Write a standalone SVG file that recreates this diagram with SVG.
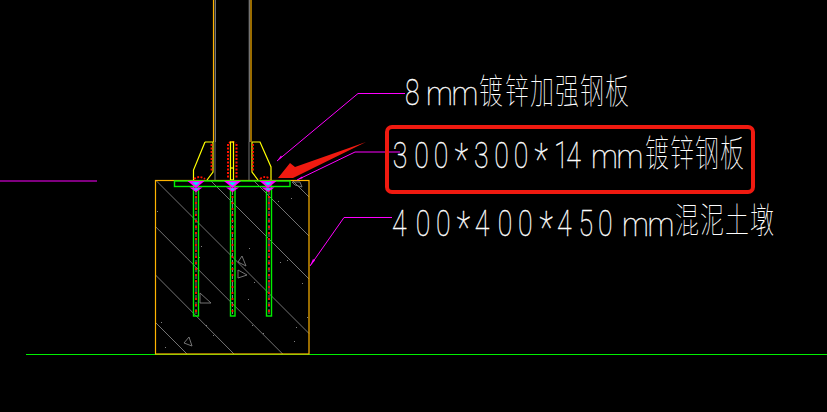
<svg xmlns="http://www.w3.org/2000/svg" width="827" height="412" viewBox="0 0 827 412">
<style>
.o{fill:none;stroke:#ffb400;stroke-width:1.2}
.y{fill:none;stroke:#ffff00;stroke-width:1.2}
.g{fill:none;stroke:#00f000;stroke-width:1.4}
.gr{fill:none;stroke:#808080;stroke-width:.9}
.m{fill:none;stroke:#ff00ff;stroke-width:1}
.r{fill:none;stroke:#ff1000;stroke-width:1.800;stroke-dasharray:2 1.500}
.rc{fill:none;stroke:#808080;stroke-width:1;stroke-dasharray:5 2}
.rr{fill:none;stroke:#ff1000;stroke-width:1.800;stroke-dasharray:2 4}
.t{fill:#fff;stroke:#fff;stroke-width:.35;font-weight:100;font-family:"Roboto","Liberation Sans",sans-serif}
.d{font-size:37px}
.ast{font-size:44px}
.mm{font-size:34px}
.c{font-size:24px;font-weight:100;font-family:"Noto Sans CJK SC",sans-serif;fill:#fff}
.s{fill:#808080}
</style>
<defs>
<g id="bolt">
<path d="M-8.500 0H8.500L0 7Z" fill="#ff00ff"/>
<path d="M-4 1.200H4L0 4.500Z" fill="#00e8f0"/>
<path d="M-6.500 6.500H6.500L0 11Z" fill="#ff00ff"/>
<path d="M-2.500 7.500H2.500L0 9.500Z" fill="#00e8f0"/>
</g>
</defs>
<rect width="827" height="412" fill="#000"/>
<g id="concrete-hatch">
<path class="gr" d="M156.500 181L309 333.500M155.500 226.700L282.700 354M155.500 275L234 354M155.500 322.500L187 354M211 181L309 279M254 181L309 236M293 181L309 197M215 142V180M249 142V180"/>
<path class="gr" d="M238 262L242 256L246 266ZM238 270L247 275L238 278ZM200 293L211 303L200 303ZM184 343L189 337L192 346ZM292 182H300L302 187L295 185Z"/>
<g class="s"><rect x="157" y="211" width="1" height="1"/><rect x="201" y="246" width="1" height="1"/><rect x="199" y="257" width="1" height="1"/><rect x="249" y="248" width="1" height="1"/><rect x="280" y="262" width="1" height="1"/><rect x="287" y="260" width="1" height="1"/><rect x="254" y="282" width="1" height="1"/><rect x="248" y="299" width="1" height="1"/><rect x="302" y="283" width="1" height="1"/><rect x="161" y="322" width="1" height="1"/><rect x="206" y="325" width="1" height="1"/><rect x="213" y="335" width="1" height="1"/><rect x="252" y="325" width="1" height="1"/><rect x="263" y="333" width="1" height="1"/><rect x="296" y="327" width="1" height="1"/><rect x="307" y="317" width="1" height="1"/><rect x="294" y="341" width="1" height="1"/><rect x="165" y="347" width="1" height="1"/><rect x="278" y="201" width="1" height="1"/><rect x="291" y="198" width="1" height="1"/></g>
</g>
<g id="ground"><path d="M26 354.500H827" stroke="#00f000" stroke-width="1.200"/><path d="M0 181H97" class="m"/></g>
<g id="foundation"><rect class="o" x="155.500" y="180.500" width="153.500" height="173.500"/></g>
<g id="column"><path class="o" d="M213.500 0V142M251 0V142"/><path class="gr" d="M215.300 0V142M249.300 0V142" style="stroke-width:1.200"/></g>
<g id="stiffener-left"><path class="y" d="M205 142H213V172L207 180M205 142L193.500 170V180"/><path class="r" d="M211.500 144V172M194 179Q199 175 205 179"/></g>
<g id="stiffener-right"><path class="y" d="M252 142H260L271 167V180M252 142V172L258 180"/><path class="r" d="M253 144V172M260 179Q265 175 270 179"/></g>
<g id="stiffener-center"><path class="r" d="M228 144V178M236.500 144V178M229 143Q232.500 141 236 143" style="stroke-width:2"/><path class="y" d="M230.500 168H233.500"/><rect x="230.500" y="142" width="3" height="38" class="y"/></g>
<g id="plate"><rect class="g" x="174.500" y="181" width="115.500" height="5.500"/></g>
<g id="rod-left"><rect class="g" x="193.500" y="186" width="5" height="130"/><path class="rc" d="M196 190V316"/><path class="rr" d="M196 190V314"/></g>
<g id="rod-center"><rect class="g" x="230.500" y="186" width="4.500" height="130"/><path class="rc" d="M232.500 190V316"/><path class="rr" d="M232.500 190V314"/></g>
<g id="rod-right"><rect class="g" x="266.500" y="186" width="5" height="130"/><path class="rc" d="M269 190V316"/><path class="rr" d="M269 190V314"/></g>
<g id="bolts"><use href="#bolt" x="196" y="181"/><use href="#bolt" x="232.500" y="181"/><use href="#bolt" x="268" y="181"/></g>
<g id="connectors">
<path class="m" d="M405 93.500H358L277 161"/>
<path class="m" d="M400 152H355L297 180"/>
<path class="m" d="M392 217.500H344L310 266"/>
<path d="M277 161L281 155.500L282 157Z M297 180L302 176.500L303 178Z M310 266L313 259L315 260.500Z" fill="#ff00ff"/>
</g>
<g id="callout">
<rect x="387" y="127" width="366" height="65" rx="5" fill="none" stroke="#f01a10" stroke-width="4"/>
<path d="M278 178L290 163L295 167L366 142L293 178Z" fill="#f01a10"/>
</g>
<g id="label-8mm">
<text class="t d" transform="translate(405,105) scale(.72,1)" x="0">8</text>
<text class="t mm" transform="translate(426,105) scale(.88,1)" x="0 29">mm</text>
<text class="c" transform="translate(0,104) scale(1,1.450)" x="479 505 530 555 580 605" y="0">镀锌加强钢板</text>
</g>
<g id="label-300">
<text class="t d" transform="translate(392,168) scale(.72,1)" x="1 31 58 87 114 142 169 198 225 242" y="0">300<tspan class="ast" y="7">*</tspan><tspan y="0">300</tspan><tspan class="ast" y="7">*</tspan><tspan y="0">14</tspan></text>
<text class="t mm" transform="translate(591,168) scale(.88,1)" x="0 29">mm</text>
<text class="c" transform="translate(0,167) scale(1,1.550)" x="645 670 695 720" y="0">镀锌钢板</text>
</g>
<g id="label-400">
<text class="t d" transform="translate(392,236) scale(.72,1)" x="0 33 61 90 115 147 175 205 229 259 286" y="0">400<tspan class="ast" y="7">*</tspan><tspan y="0">400</tspan><tspan class="ast" y="7">*</tspan><tspan y="0">450</tspan></text>
<text class="t mm" transform="translate(622,236) scale(.88,1)" x="0 29">mm</text>
<text class="c" transform="translate(0,233) scale(1,1.450)" x="675 700 725 750" y="0">混泥土墩</text>
</g>
</svg>
